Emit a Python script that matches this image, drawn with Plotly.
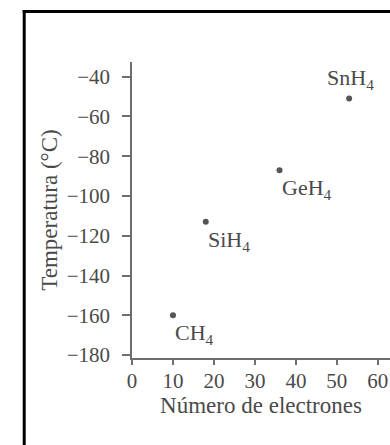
import plotly.graph_objects as go

# Boiling points of the group 14 hydrides
molecules = ["CH<sub>4</sub>", "SiH<sub>4</sub>", "GeH<sub>4</sub>", "SnH<sub>4</sub>"]
electrons = [10, 18, 36, 53]
temperatures = [-160, -113, -87, -51]

y_ticks = [-40, -60, -80, -100, -120, -140, -160, -180]
x_ticks = [0, 10, 20, 30, 40, 50, 60]

W, H = 390, 445
ML, MR, MT, MB = 131.5, 0, 62, 87
FONT = "Liberation Serif"
TICK_SIZE = 21
TITLE_SIZE = 23
LABEL_SIZE = 22
INK = "#4a4a4a"
AXIS = "#6e6e6e"

def px_to_paper_x(px):
    return (px - ML) / (W - ML - MR)

def px_to_paper_y(py):
    return (H - MB - py) / (H - MT - MB)

fig = go.Figure()
fig.add_trace(go.Scatter(
    x=electrons, y=temperatures, mode="markers",
    marker=dict(size=6, color="#555555"),
    hoverinfo="skip", showlegend=False,
))

# SnH4 is labelled above its point, the other hydrides below-right
for name, e, t in zip(molecules, electrons, temperatures):
    if name.startswith("Sn"):
        place = dict(xanchor="center", yanchor="bottom", xshift=1, yshift=4)
    else:
        place = dict(xanchor="left", yanchor="top", xshift=0, yshift=-3)
    fig.add_annotation(x=e, y=t, text=name, showarrow=False,
                       font=dict(family=FONT, size=LABEL_SIZE, color=INK),
                       **place)

# Page frame (left and top edges)
fig.add_shape(type="line", xref="paper", yref="paper",
              x0=px_to_paper_x(23.5), x1=px_to_paper_x(23.5),
              y0=px_to_paper_y(10), y1=px_to_paper_y(450),
              line=dict(color="black", width=3))
fig.add_shape(type="line", xref="paper", yref="paper",
              x0=px_to_paper_x(22), x1=px_to_paper_x(400),
              y0=px_to_paper_y(11.5), y1=px_to_paper_y(11.5),
              line=dict(color="black", width=3))

fig.update_layout(
    width=W, height=H,
    margin=dict(l=ML, r=MR, t=MT, b=MB),
    paper_bgcolor="white", plot_bgcolor="white",
    font=dict(family=FONT, size=TICK_SIZE, color=INK),
    showlegend=False,
)
fig.update_xaxes(
    range=[0, 62.97], tickvals=x_ticks, ticks="outside", ticklen=5,
    tickwidth=1.5, tickcolor=AXIS, showline=True, linecolor=AXIS, linewidth=1.5,
    showgrid=False, zeroline=False, ticklabelstandoff=-2,
    tickfont=dict(family=FONT, size=TICK_SIZE, color=INK),
    title=dict(text="Número de electrones", standoff=0,
               font=dict(family=FONT, size=TITLE_SIZE, color=INK)),
)
fig.update_yaxes(
    range=[-181.5, -32.6], tickvals=y_ticks, ticks="outside", ticklen=8,
    tickwidth=1.5, tickcolor=AXIS, showline=True, linecolor=AXIS, linewidth=1.5,
    showgrid=False, zeroline=False, ticklabelstandoff=8,
    tickfont=dict(family=FONT, size=TICK_SIZE, color=INK),
    title=dict(text="Temperatura (°C)", standoff=3,
               font=dict(family=FONT, size=TITLE_SIZE, color=INK)),
)

fig.write_html("out.html")
